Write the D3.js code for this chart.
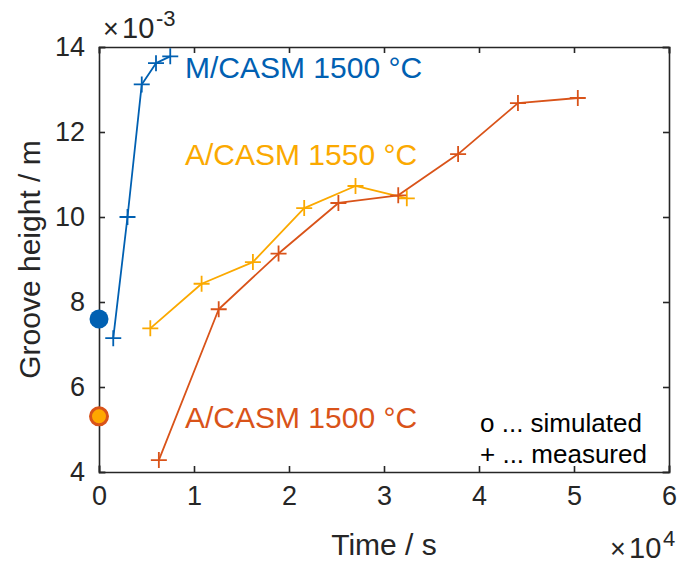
<!DOCTYPE html>
<html>
<head>
<meta charset="utf-8">
<script src="https://cdn.jsdelivr.net/npm/d3@7"></script>
<style>
  html, body { margin: 0; padding: 0; background: #fff; }
  svg text { font-family: "Liberation Sans", Arial, Helvetica, sans-serif; }
</style>
</head>
<body>
<svg id="chart" width="688" height="566"></svg>
<script>
// Measured groove heights (time in s, height in m)
const mcasm1500Time   = [1500, 3000, 4500, 6000, 7500];
const mcasm1500Height = [0.00715, 0.0100, 0.01312, 0.01362, 0.01378];

const acasm1550Time   = [5400, 10800, 16200, 21600, 27000, 32400];
const acasm1550Height = [0.00738, 0.00843, 0.00894, 0.01021, 0.01073, 0.01044];

const acasm1500Time   = [6300, 12600, 18900, 25200, 31500, 37800, 44100, 50400];
const acasm1500Height = [0.00428, 0.00783, 0.00914, 0.01033, 0.01051, 0.01148, 0.01268, 0.01280];

// Simulated heights at t = 0
const simulatedTime   = [0, 0];
const simulatedHeight = [0.00760, 0.00531];

// Axis ticks
const xTicks = [0, 10000, 20000, 30000, 40000, 50000, 60000];
const yTicks = [0.004, 0.006, 0.008, 0.010, 0.012, 0.014];

const blue = "#0060B2", orange = "#D95319", yellow = "#FBA900";
const axisColor = "#262626";

const svg = d3.select("#chart");
const plotLeft = 99, plotRight = 669, plotTop = 47, plotBottom = 472;

const x = d3.scaleLinear().domain([0, 60000]).range([plotLeft, plotRight]);
const y = d3.scaleLinear().domain([0.004, 0.014]).range([plotBottom, plotTop]);

const tickLen = 6;
// Axes: inward ticks on all four sides (boxed axes)
const axB = d3.axisBottom(x).tickValues(xTicks).tickSize(-tickLen).tickPadding(14)
  .tickFormat(d => d3.format("d")(d / 1e4));
const axT = d3.axisTop(x).tickValues(xTicks).tickSize(-tickLen).tickFormat("");
const axL = d3.axisLeft(y).tickValues(yTicks).tickSize(-tickLen).tickPadding(14)
  .tickFormat(d => d3.format("d")(Math.round(d * 1e3)));
const axR = d3.axisRight(y).tickValues(yTicks).tickSize(-tickLen).tickFormat("");

function styleAxis(g) {
  g.selectAll("path").attr("stroke", axisColor).attr("stroke-width", 1.6);
  g.selectAll("line").attr("stroke", axisColor).attr("stroke-width", 1.6);
  g.selectAll("text").attr("fill", axisColor).style("font-size", "27px");
}

svg.append("g").attr("transform", `translate(0,${plotBottom})`).call(axB).call(styleAxis)
  .call(g => g.selectAll("text").attr("dy", "0.71em"));
svg.append("g").attr("transform", `translate(0,${plotTop})`).call(axT).call(styleAxis);
svg.append("g").attr("transform", `translate(${plotLeft},0)`).call(axL).call(styleAxis);
svg.append("g").attr("transform", `translate(${plotRight},0)`).call(axR).call(styleAxis);
svg.selectAll(".domain").attr("stroke-linecap", "square");

// Exponent labels (×10^n)
function exponentLabel(x0, baseY, power) {
  const t = svg.append("text").attr("y", baseY).attr("fill", axisColor);
  t.append("tspan").attr("x", x0).style("font-size", "27px").text("×");
  t.append("tspan").attr("x", x0 + 19).style("font-size", "29px").text("10");
  t.append("tspan").attr("x", x0 + 53).attr("dy", -12).style("font-size", "22px").text(power);
}
exponentLabel(103, 38, "-3");
exponentLabel(610, 558, "4");

// Axis titles
svg.append("text").attr("x", (plotLeft + plotRight) / 2).attr("y", 555)
  .attr("text-anchor", "middle").attr("fill", axisColor).style("font-size", "30px")
  .text("Time / s");
svg.append("text")
  .attr("transform", `translate(40,${(plotTop + plotBottom) / 2}) rotate(-90)`)
  .attr("text-anchor", "middle").attr("fill", axisColor).style("font-size", "30px")
  .text("Groove height / m");

// Measured series: line with '+' markers
const line = d3.line().x(d => x(d[0])).y(d => y(d[1]));
const plus = "M-8,0H8M0,-8V8";

function drawSeries(times, heights, color) {
  const pts = times.map((t, i) => [t, heights[i]]);
  svg.append("path").datum(pts).attr("d", line)
    .attr("fill", "none").attr("stroke", color).attr("stroke-width", 1.8)
    .attr("stroke-linejoin", "round");
  svg.append("g").selectAll("path").data(pts).join("path")
    .attr("transform", d => `translate(${x(d[0])},${y(d[1])})`)
    .attr("d", plus).attr("fill", "none").attr("stroke", color).attr("stroke-width", 1.8);
}

drawSeries(acasm1550Time, acasm1550Height, yellow);
drawSeries(acasm1500Time, acasm1500Height, orange);
drawSeries(mcasm1500Time, mcasm1500Height, blue);

// Simulated values: circles on the y-axis
svg.append("circle").attr("cx", x(simulatedTime[0])).attr("cy", y(simulatedHeight[0]))
  .attr("r", 9.5).attr("fill", blue);
svg.append("circle").attr("cx", x(simulatedTime[1])).attr("cy", y(simulatedHeight[1]))
  .attr("r", 8.5).attr("fill", "#FFA800").attr("stroke", orange).attr("stroke-width", 3);

// Series labels
const labels = [
  { text: "M/CASM 1500 °C", color: blue,   x: 185, y: 78 },
  { text: "A/CASM 1550 °C", color: yellow, x: 185, y: 165 },
  { text: "A/CASM 1500 °C", color: orange, x: 185, y: 428 }
];
svg.append("g").selectAll("text").data(labels).join("text")
  .attr("x", d => d.x).attr("y", d => d.y).attr("fill", d => d.color)
  .style("font-size", "30px").text(d => d.text);

// Marker key
svg.append("text").attr("x", 480).attr("y", 432).attr("fill", "#000")
  .style("font-size", "26px").text("o ... simulated");
svg.append("text").attr("x", 480).attr("y", 463).attr("fill", "#000")
  .style("font-size", "26px").text("+ ... measured");
</script>
</body>
</html>
